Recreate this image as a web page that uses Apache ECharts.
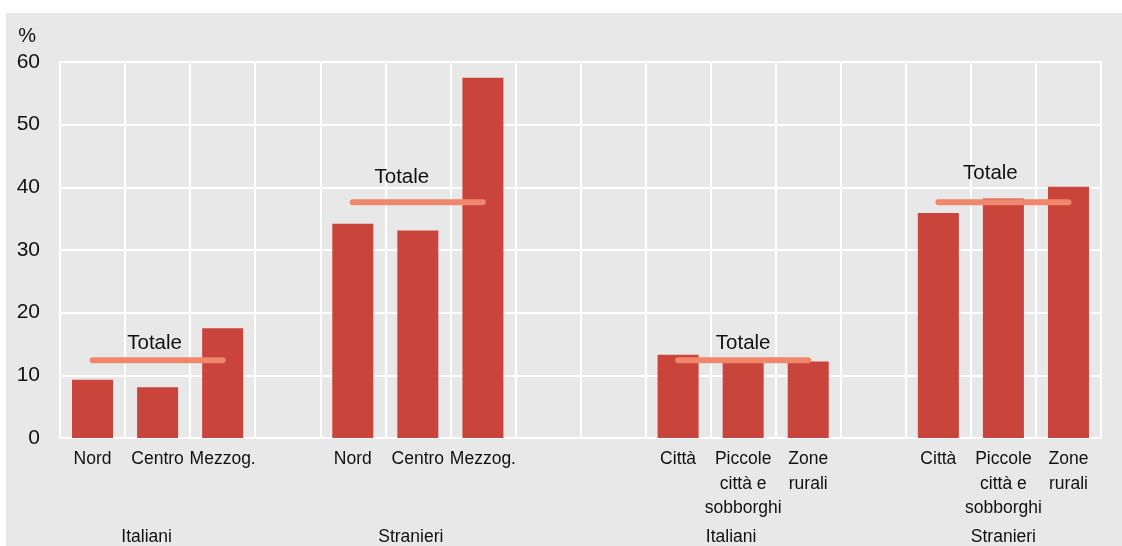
<!DOCTYPE html>
<html>
<head>
<meta charset="utf-8">
<script src="https://cdn.jsdelivr.net/npm/echarts@6/dist/echarts.min.js"></script>
<style>
html,body{margin:0;padding:0;background:#fff;}
#c{width:1122px;height:546px;}
</style>
</head>
<body>
<div id="c"></div>
<script>
// ---- data ----
const categories = ['Nord','Centro','Mezzog.','', 'Nord','Centro','Mezzog.','', '', 'Città','Piccole\ncittà e\nsobborghi','Zone\nrurali','', 'Città','Piccole\ncittà e\nsobborghi','Zone\nrurali'];
const values = [9.3, 8.1, 17.5, null, 34.2, 33.1, 57.5, null, null, 13.3, 12.5, 12.2, null, 35.9, 38.2, 40.1];
const groupLabels = ['', 'Italiani', '', '', '', 'Stranieri', '', '', '', '', 'Italiani', '', '', '', 'Stranieri', ''];
const totals = [
  {from: 0, to: 2, value: 12.4},
  {from: 4, to: 6, value: 37.6},
  {from: 9, to: 11, value: 12.4},
  {from: 13, to: 15, value: 37.6}
];
const totalLabel = 'Totale';
const yTicks = {min: 0, max: 60, interval: 10};
const yName = '%';

// ---- styles ----
const FONT = "'Liberation Sans',Arial,sans-serif";
const labelShift = [[-3, 0], [-16, -8], [0, 0], [-13, -12]];
const groupShift = {1: 22, 5: 14, 10: 24, 14: 0};
const LINE_COLOR = '#f0876c';

const totalSeries = totals.map((t, k) => {
  const data = categories.map(() => null);
  for (let i = t.from; i <= t.to; i++) data[i] = t.value;
  const mid = Math.round((t.from + t.to) / 2);
  data[mid] = {
    value: t.value,
    label: {show: true, formatter: totalLabel, position: 'top', distance: 6,
            offset: labelShift[k],
            color: '#111', fontSize: 20.5, fontFamily: FONT}
  };
  return {
    type: 'line', data: data, symbol: 'circle', symbolSize: 1, showSymbol: true, connectNulls: false,
    itemStyle: {color: LINE_COLOR},
    lineStyle: {color: LINE_COLOR, width: 6, cap: 'round'},
    z: 5, silent: true, animation: false
  };
});

const groupData = groupLabels.map((g, i) => groupShift[i] ?
  {value: g, textStyle: {padding: [0, groupShift[i], 0, 0]}} : g);

const chart = echarts.init(document.getElementById('c'), null, {renderer: 'canvas'});
chart.setOption({
  animation: false,
  backgroundColor: '#ffffff',
  graphic: [{type: 'rect', shape: {x: 6, y: 13, width: 1116, height: 533}, style: {fill: '#e8e8e8'}, z: -10, silent: true}],
  grid: {left: 60, right: 21, top: 62, bottom: 107, show: true, borderColor: '#ffffff', borderWidth: 2, backgroundColor: 'transparent'},
  xAxis: [{
    type: 'category', data: categories, position: 'bottom',
    axisLine: {show: false}, axisTick: {show: false},
    splitLine: {show: true, interval: 0, lineStyle: {color: '#ffffff', width: 2}},
    axisLabel: {interval: 0, margin: 9, color: '#111', fontSize: 17.5, lineHeight: 24.5, fontFamily: FONT}
  }, {
    type: 'category', data: groupData, position: 'bottom', offset: 82,
    axisLine: {show: false}, axisTick: {show: false}, splitLine: {show: false},
    axisLabel: {interval: 0, margin: 8, color: '#111', fontSize: 17.5, fontFamily: FONT}
  }],
  yAxis: {
    type: 'value', min: yTicks.min, max: yTicks.max, interval: yTicks.interval,
    name: yName, nameLocation: 'end', nameGap: 16,
    nameTextStyle: {color: '#111', fontSize: 20, fontFamily: FONT, align: 'right', padding: [0, 24, 0, 0]},
    axisLine: {show: false}, axisTick: {show: false},
    splitLine: {show: true, lineStyle: {color: '#ffffff', width: 2}},
    axisLabel: {margin: 20, color: '#111', fontSize: 21, fontFamily: FONT}
  },
  series: [{
    type: 'bar', data: values, barWidth: 41, xAxisIndex: 0,
    itemStyle: {color: '#c9443b'}, z: 3, silent: true
  }].concat(totalSeries)
});
</script>
</body>
</html>
